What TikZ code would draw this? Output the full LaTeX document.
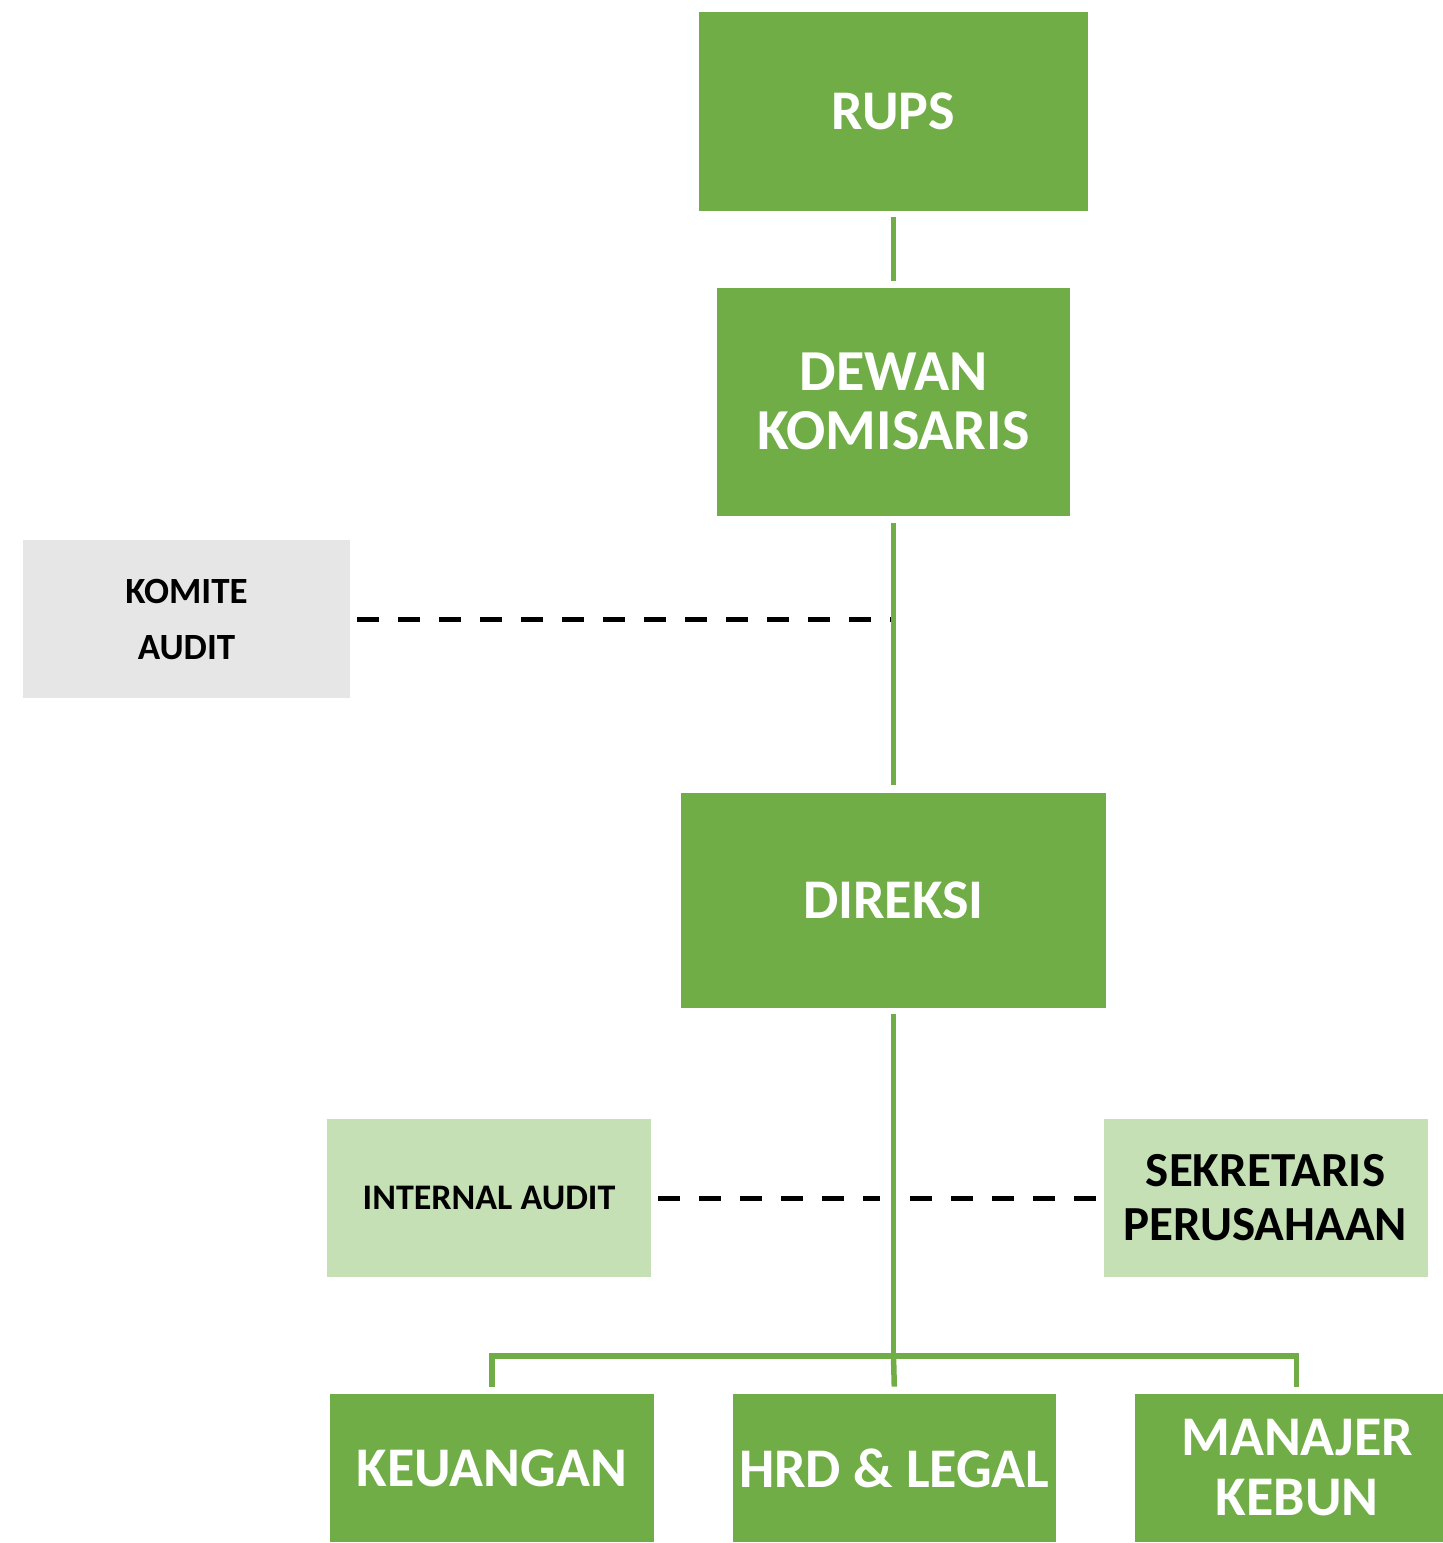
\documentclass[tikz,border=0pt]{standalone}
\usepackage{fontspec}
\setmainfont{Carlito}
\usetikzlibrary{positioning}
\definecolor{orggreen}{HTML}{70AD47}
\definecolor{stafgreen}{HTML}{C5E0B4}
\definecolor{komitegray}{HTML}{E6E6E6}

\begin{document}
\begin{tikzpicture}[x=1pt, y=1pt, node distance=38pt, line join=miter]
            \tikzstyle{mainbox}=[fill=orggreen, text=white, align=center, inner sep=0pt]
            \tikzstyle{unitbox}=[mainbox, minimum width=162pt, minimum height=74pt, font=\bfseries\fontsize{28}{30}\selectfont]
            \tikzstyle{staffbox}=[fill=stafgreen, text=black, align=center, inner sep=0pt, minimum width=162pt, minimum height=79pt]
            \tikzstyle{link}=[draw=orggreen, line width=2.75pt]
            \tikzstyle{dotline}=[draw=black, line width=2.5pt, dash pattern=on 11pt off 9.5pt]

            \useasboundingbox (0,0) rectangle (721,-771.5);

            \node[mainbox, minimum width=194.5pt, minimum height=99.5pt, font=\bfseries\fontsize{28}{30}\selectfont] (rups) at (446.75,-55.75) {RUPS};
            \node[mainbox, minimum width=176.5pt, minimum height=114pt, font=\bfseries\fontsize{29}{29.5}\selectfont] (dk) [below=of rups] {DEWAN\\KOMISARIS};
            \node[mainbox, minimum width=212.5pt, minimum height=107.5pt, font=\bfseries\fontsize{28}{30}\selectfont] (direksi) [below=138pt of dk] {DIREKSI};
            \node[fill=komitegray, align=center, inner sep=0pt, minimum width=163.5pt, minimum height=79pt, font=\bfseries\fontsize{18.5}{28}\selectfont] (komite) at (93.25,-309.5) {KOMITE\\AUDIT};

            \node[staffbox, font=\bfseries\fontsize{18}{20}\selectfont] (ia) at (244.5,-599) {INTERNAL AUDIT};
            \node[staffbox, font=\bfseries\fontsize{24.5}{27}\selectfont] (sp) at (632.75,-599) {SEKRETARIS\\PERUSAHAAN};

            \node[unitbox] (keu) at (246,-734) {KEUANGAN};
            \node[unitbox, minimum width=161.5pt] (hrd) [right=39pt of keu] {HRD \& LEGAL};
            \node[unitbox, minimum width=154.5pt, font=\bfseries\fontsize{28}{30}\selectfont] (mk) [right=39pt of hrd] {\hspace*{8pt}MANAJER\\\hspace*{8pt}KEBUN};
            \coordinate (bus) at (446.75,-678);

            \draw[dotline, shorten <=3.5pt] (komite) -- (komite -| dk);
            \draw[dotline, shorten <=3.5pt, shorten >=7pt] (ia) -- (ia -| direksi);
            \draw[dotline, shorten <=3.5pt, shorten >=7pt] (sp) -- (sp -| direksi);

            \draw[link, shorten <=3pt, shorten >=3pt] (rups) -- (dk);
            \draw[link, shorten <=3.5pt, shorten >=3.5pt] (dk) -- (direksi);
            \draw[link, shorten <=3pt] (direksi) -- (bus);
            \draw[link] ([yshift=3.5pt]keu.north) |- (bus) -| ([yshift=3.5pt, xshift=3.75pt]mk.north);
            \draw[link] (bus) -- ([yshift=3.5pt]hrd.north);
        \end{tikzpicture}
\end{document}
